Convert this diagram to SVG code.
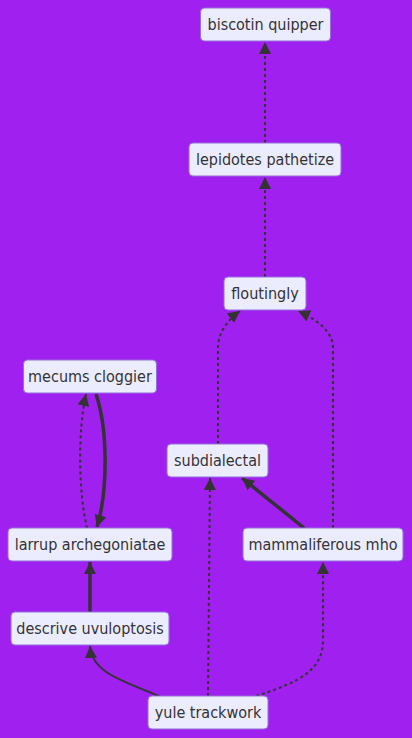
<svg xmlns="http://www.w3.org/2000/svg" width="412" height="738" viewBox="0 0 412 738">
<style>
.node rect{fill:#ececff;stroke:#9370db;stroke-width:1;}
.node text{font-family:"DejaVu Sans Condensed","DejaVu Sans",sans-serif;font-stretch:condensed;font-size:16px;fill:#333;text-anchor:middle;dominant-baseline:central;}
.e{fill:none;stroke:#333;}
.dot{stroke-width:2;stroke-dasharray:3 3;}
.solid{stroke-width:2;}
.thick{stroke-width:3.5;}
</style>
<defs>
<marker id="arr" markerUnits="userSpaceOnUse" markerWidth="12" markerHeight="12" refX="10" refY="5" orient="auto" viewBox="0 0 10 10">
<path d="M0,0 L10,5 L0,10 z" fill="#333"/>
</marker>
</defs>
<rect width="412" height="738" fill="#a020f0"/>
<g id="connectors">
<path class="e dot" d="M265,143 L265,42" marker-end="url(#arr)"/>
<path class="e dot" d="M265,277 L265,177" marker-end="url(#arr)"/>
<path class="e dot" d="M218,444 L218,348 C218,332 228,320 240,311" marker-end="url(#arr)"/>
<path class="e dot" d="M333,528 L333,348 C333,332 318,320 298,311" marker-end="url(#arr)"/>
<path class="e thick" d="M96,394 C108,430 108,490 97,527" marker-end="url(#arr)"/>
<path class="e dot" d="M87,528 C78,490 78,430 86,394" marker-end="url(#arr)"/>
<path class="e thick" d="M90,612 L90,562" marker-end="url(#arr)"/>
<path class="e thick" d="M304,528 L242,478" marker-end="url(#arr)"/>
<path class="e solid" d="M159,696 C120,680 92,672 90,646" marker-end="url(#arr)"/>
<path class="e dot" d="M208,696 L210,478" marker-end="url(#arr)"/>
<path class="e dot" d="M256,696 C300,682 323,670 323,640 L323,562" marker-end="url(#arr)"/>
</g>
<g id="biscotin" class="node"><rect x="200.5" y="8" width="130" height="33" rx="4"/><text x="265.5" y="24.5">biscotin quipper</text></g>
<g id="lepidotes" class="node"><rect x="189" y="143" width="152" height="33" rx="4"/><text x="265" y="159.5">lepidotes pathetize</text></g>
<g id="floutingly" class="node"><rect x="224" y="277" width="82" height="33" rx="4"/><text x="265" y="293.5">floutingly</text></g>
<g id="mecums" class="node"><rect x="23.5" y="360" width="133" height="33" rx="4"/><text x="90" y="376.5">mecums cloggier</text></g>
<g id="subdialectal" class="node"><rect x="167" y="444" width="101" height="33" rx="4"/><text x="217.5" y="460.5">subdialectal</text></g>
<g id="larrup" class="node"><rect x="8" y="528" width="164" height="33" rx="4"/><text x="90" y="544.5">larrup archegoniatae</text></g>
<g id="mammaliferous" class="node"><rect x="243" y="528" width="160" height="33" rx="4"/><text x="323" y="544.5">mammaliferous mho</text></g>
<g id="descrive" class="node"><rect x="11" y="612" width="158" height="33" rx="4"/><text x="90" y="628.5">descrive uvuloptosis</text></g>
<g id="yule" class="node"><rect x="148" y="696" width="120" height="33" rx="4"/><text x="208" y="712.5">yule trackwork</text></g>
</svg>
